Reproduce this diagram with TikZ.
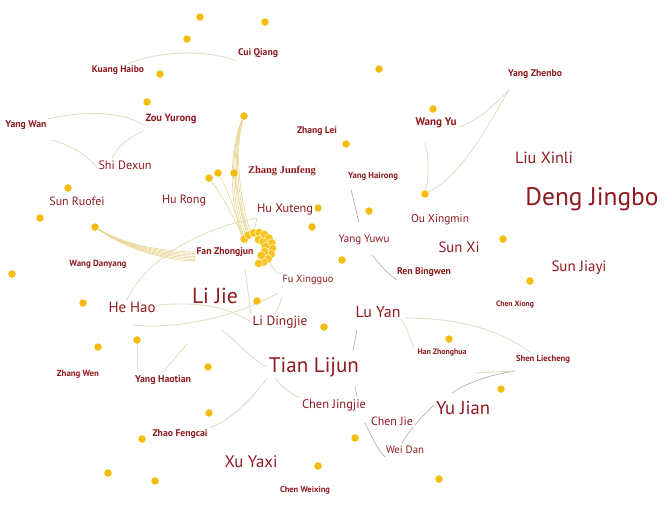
\documentclass[tikz,border=0pt]{standalone}
\usepackage{fontspec}
\setsansfont{PT Sans}
\newfontfamily\zjfont{Liberation Serif}
\usetikzlibrary{calc}
\definecolor{labred}{HTML}{8E1A20}
\definecolor{dotc}{HTML}{F4BC0C}
\definecolor{cdotc}{HTML}{F7C41E}
\definecolor{edgeb}{HTML}{E4DAC0}
\definecolor{edgey}{HTML}{EAD794}
\definecolor{edgeg}{HTML}{B4B4B4}
\pgfdeclarelayer{edges}
\pgfdeclarelayer{dots}
\pgfsetlayers{edges,dots,main}
\begin{document}
\begin{tikzpicture}[x=1pt,y=-1pt,
  lab/.style={text=labred, font=\sffamily, inner sep=1.5pt, fill=white},
  dot/.style={circle, fill=dotc, inner sep=0pt, minimum size=7.5pt},
  cdot/.style={circle, fill=cdotc, draw=white, line width=0.4pt, inner sep=0pt, minimum size=8.5pt},
  eb/.style={draw=edgeb, line width=0.8pt},
  ey/.style={draw=edgey, line width=0.6pt},
  eg/.style={draw=edgeg, line width=0.7pt}]
\begin{pgfonlayer}{edges}
\useasboundingbox[fill=white] (0,0) rectangle (664,512);
\end{pgfonlayer}

% ---------- labels ----------
\newcommand\bl[1]{\bfseries #1}
\node[lab] (cui) at (258,53) {\resizebox{40pt}{!}{\bl{Cui Qiang}}};
\node[lab] (kuang) at (118,70) {\resizebox{52pt}{!}{\bl{Kuang Haibo}}};
\node[lab] (yangwan) at (26,125) {\resizebox{41pt}{!}{\bl{Yang Wan}}};
\node[lab] (zou) at (171,119) {\resizebox{51pt}{!}{\bl{Zou Yurong}}};
\node[lab] (shi) at (125,165) {\resizebox{53pt}{!}{Shi Dexun}};
\node[lab] (sunruofei) at (77,201) {\resizebox{55pt}{!}{Sun Ruofei}};
\node[lab] (hurong) at (184,201) {\resizebox{44pt}{!}{Hu Rong}};
\node[lab] (zhangjf) at (282,171) {\resizebox{68pt}{!}{\zjfont\bfseries Zhang Junfeng}};
\node[lab] (zhanglei) at (317,131) {\resizebox{40pt}{!}{\bl{Zhang Lei}}};
\node[lab] (yanghairong) at (373,176) {\resizebox{50pt}{!}{\bl{Yang Hairong}}};
\node[lab] (wangyu) at (436,123) {\resizebox{41pt}{!}{\bl{Wang Yu}}};
\node[lab] (yangzhenbo) at (535,74) {\resizebox{54pt}{!}{\bl{Yang Zhenbo}}};
\node[lab] (liuxinli) at (544,158) {\resizebox{58pt}{!}{Liu Xinli}};
\node[lab] (deng) at (592,199) {\resizebox{133pt}{!}{Deng Jingbo}};
\node[lab] (ouxingmin) at (440,220) {\resizebox{58pt}{!}{Ou Xingmin}};
\node[lab] (yangyuwu) at (364,240) {\resizebox{51pt}{!}{Yang Yuwu}};
\node[lab] (sunxi) at (459,247) {\resizebox{41pt}{!}{Sun Xi}};
\node[lab] (sunjiayi) at (579,268) {\resizebox{55pt}{!}{Sun Jiayi}};
\node[lab] (renbingwen) at (424,272) {\resizebox{54pt}{!}{\bl{Ren Bingwen}}};
\node[lab] (chenxiong) at (515,305) {\resizebox{38pt}{!}{\bl{Chen Xiong}}};
\node[lab] (luyan) at (378,312) {\resizebox{45pt}{!}{Lu Yan}};
\node[lab] (huxuteng) at (285,209) {\resizebox{56pt}{!}{Hu Xuteng}};
\node[lab, fill=none] (fan) at (225,252) {\resizebox{57pt}{!}{\bl{Fan Zhongjun}}};
\node[lab] (wangdanyang) at (98,264) {\resizebox{57pt}{!}{\bl{Wang Danyang}}};
\node[lab] (fuxingguo) at (308,280) {\resizebox{51pt}{!}{Fu Xingguo}};
\node[lab, fill=none] (lijie) at (215,296) {\resizebox{46pt}{!}{Li Jie}};
\node[lab] (hehao) at (132,307) {\resizebox{47pt}{!}{He Hao}};
\node[lab] (lidingjie) at (280,322) {\resizebox{55pt}{!}{Li Dingjie}};
\node[lab] (han) at (442,353) {\resizebox{49pt}{!}{\bl{Han Zhonghua}}};
\node[lab] (shen) at (543,359) {\resizebox{54pt}{!}{\bl{Shen Liecheng}}};
\node[lab] (tian) at (314,367) {\resizebox{90pt}{!}{Tian Lijun}};
\node[lab] (zhangwen) at (78,374) {\resizebox{42pt}{!}{\bl{Zhang Wen}}};
\node[lab] (yanghaotian) at (163,380) {\resizebox{56pt}{!}{\bl{Yang Haotian}}};
\node[lab] (chenjingjie) at (334,405) {\resizebox{64pt}{!}{Chen Jingjie}};
\node[lab] (yujian) at (463,408) {\resizebox{54pt}{!}{Yu Jian}};
\node[lab] (chenjie) at (392,421) {\resizebox{42pt}{!}{Chen Jie}};
\node[lab] (zhao) at (180,434) {\resizebox{55pt}{!}{\bl{Zhao Fengcai}}};
\node[lab] (weidan) at (405,450) {\resizebox{38pt}{!}{Wei Dan}};
\node[lab] (xuyaxi) at (251,462) {\resizebox{53pt}{!}{Xu Yaxi}};
\node[lab] (chenweixing) at (305,490) {\resizebox{50pt}{!}{\bl{Chen Weixing}}};

% ---------- dots ----------
\begin{pgfonlayer}{dots}
\foreach \n/\x/\y in {1/200/17,2/265/22,3/187/39,4/160/74,5/147/102,6/244/116,
  7/379/69,8/433/109,9/346/144,10/209/178,11/218/173,12/234/173,13/68/188,
  14/40/218,15/95/227,16/12/274,17/83/303,18/257/301,19/324/327,20/312/227,
  21/137/340,22/98/347,23/425/194,24/369/211,25/342/260,26/503/239,27/530/281,
  28/449/339,29/208/367,30/209/413,31/142/439,32/108/473,33/155/481,34/318/466,
  35/501/389,36/355/438,37/439/479,38/318/208}
  \node[dot] (d\n) at (\x,\y) {};
\foreach \a [count=\i] in {-145,-124,-103,-82,-61,-40,-19,2,23,44,65,84}
  \node[cdot] (c\i) at ({257+15.5*cos(\a)},{248+15.5*sin(\a)}) {};
\foreach \a [count=\i] in {-80,-45,-10,25,60}
  \node[cdot] (ci\i) at ({257+8.5*cos(\a)},{248+8.5*sin(\a)}) {};
\end{pgfonlayer}

% ---------- free end points ----------
\coordinate (p1) at (245,270);
\coordinate (p2) at (282,297);
\coordinate (p3) at (273,318);
\coordinate (p4) at (266,258);
\coordinate (p5) at (222,330);
\coordinate (p6) at (357,330);
\coordinate (p7) at (353,351);
\coordinate (p8) at (355,387);
\coordinate (p9) at (357,396);
\coordinate (p10) at (365,423);
\coordinate (p11) at (385,457);
\coordinate (p12) at (434,405);
\coordinate (p13) at (402,443);
\coordinate (p14) at (515,371);
\coordinate (p15) at (452,393);
\coordinate (p16) at (400,318);
\coordinate (p17) at (414,348);
\coordinate (p18) at (475,373);
\coordinate (p19) at (530,352);
\coordinate (p20) at (351,190);
\coordinate (p21) at (359,222);
\coordinate (p22) at (372,255);
\coordinate (p23) at (397,280);
\coordinate (p24) at (509,90);
\coordinate (p25) at (459,127);
\coordinate (p26) at (425,143);
\coordinate (p27) at (133,325);
\coordinate (p28) at (278,293);
\coordinate (p29) at (257,218);
\coordinate (p30) at (138,372);
\coordinate (p31) at (163,372);
\coordinate (p32) at (187,344);

% ---------- edges ----------
\begin{pgfonlayer}{edges}
\foreach \e in {-5,-3,-1,1,3,5}
  \draw[ey] (d6) .. controls ({231+\e*0.6},150) and ({235+\e},205) .. ({247+\e},236);
\foreach \e in {0,1.5,3,4.5,6,7.5,9}
  \draw[ey] (d15) .. controls (125,{245+\e*0.3}) and (160,{251+\e}) .. (195,{252+\e});
\draw[ey] (d10) .. controls (222,195) and (232,215) .. (c1);
\draw[ey] (d11) .. controls (228,190) and (236,215) .. (c1);
\draw[ey] (d12) .. controls (238,195) and (242,215) .. (c2);

\draw[eb] ([xshift=10pt]kuang.north) .. controls (160,50) and (210,50) .. ([yshift=-8pt]cui.west);
\draw[eb] (yangwan.north east) .. controls (85,110) and (125,112) .. (zou.south west);
\draw[eb] ([xshift=4pt,yshift=-9pt]yangwan.south east) .. controls (70,145) and (88,155) .. ([yshift=-3pt]shi.west);
\draw[eb] ([yshift=-5pt]zou.south west) .. controls (128,138) and (116,148) .. ([xshift=-13pt]shi.north);

\draw[eb] (p29) .. controls (200,228) and (145,260) .. ([xshift=-5pt]hehao.north);
\draw[eb] (p29) -- (c3);
\draw[eb] ([yshift=2pt]hehao.east) .. controls (195,302) and (225,305) .. (lidingjie.west);
\draw[eb] (p27) .. controls (180,330) and (240,315) .. (p28);
\draw[eb] (p1) .. controls (248,290) and (250,305) .. (lidingjie.north west);
\draw[eb] (p2) .. controls (280,305) and (276,312) .. (p3);
\draw[eb] (p4) .. controls (272,266) and (276,275) .. (fuxingguo.north west);
\draw[eb] (p5) .. controls (240,345) and (255,362) .. (tian.west);

\draw[eb] (tian.south west) .. controls (250,400) and (232,420) .. (zhao.north east);
\draw[eb] ([xshift=8pt]tian.south west) .. controls (285,390) and (292,395) .. (chenjingjie.north west);
\draw[eb] (d21) -- (p30);
\draw[eb] (p31) -- (p32);

\draw[eg] (p6) -- (p7);
\draw[eg] (p8) -- (p9);
\draw[eg] (p10) .. controls (372,438) and (378,450) .. (p11);
\draw[eg] (p12) .. controls (420,418) and (410,430) .. (p13);
\draw[eg] (p14) .. controls (490,375) and (468,382) .. (p15);
\draw[eb] (p16) .. controls (408,328) and (410,340) .. (p17);
\draw[eb] (p18) -- (p14);
\draw[eb] ([xshift=4pt]p16) .. controls (460,318) and (500,330) .. (p19);
\draw[eg] (p20) .. controls (354,200) and (356,212) .. (p21);
\draw[eg] (p22) .. controls (380,265) and (388,274) .. (p23);

\draw[eb] (p24) .. controls (492,108) and (475,122) .. (p25);
\draw[eb] (p24) .. controls (480,140) and (460,175) .. (d23);
\draw[eb] (p26) .. controls (430,160) and (428,180) .. (d23);
\end{pgfonlayer}
\end{tikzpicture}
\end{document}
